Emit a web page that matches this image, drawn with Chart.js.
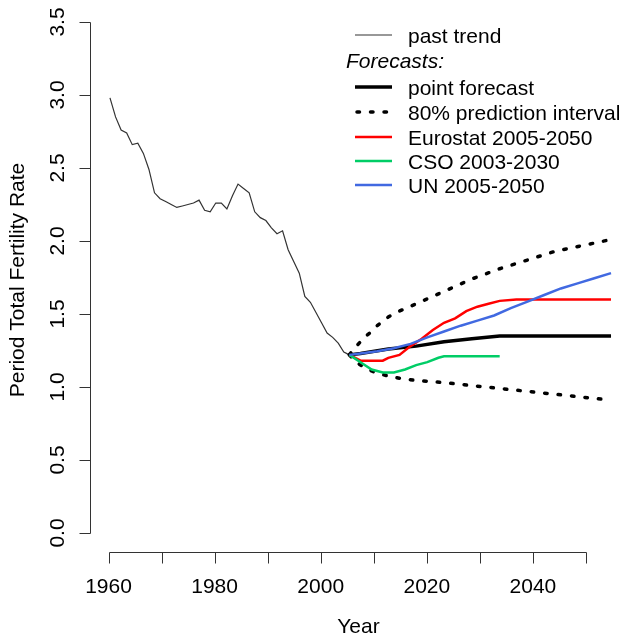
<!DOCTYPE html>
<html>
<head>
<meta charset="utf-8">
<script src="https://cdn.jsdelivr.net/npm/chart.js@4/dist/chart.umd.min.js"></script>
<style>
  html, body { margin: 0; padding: 0; background: #fff; }
  #wrap { width: 628px; height: 637px; }
</style>
</head>
<body>
<div id="wrap"><canvas id="tfrChart" width="628" height="637"></canvas></div>
<script>
// Period total fertility rate: past trend and forecasts

const pastYears = [1960, 1961, 1962, 1963, 1964, 1965, 1966, 1967, 1968, 1969,
                   1970, 1971, 1972, 1973, 1974, 1975, 1976, 1977, 1978, 1979,
                   1980, 1981, 1982, 1983, 1984, 1985, 1986, 1987, 1988, 1989,
                   1990, 1991, 1992, 1993, 1994, 1995, 1996, 1997, 1998, 1999,
                   2000, 2001, 2002, 2003];
const pastTfr = [2.98, 2.85, 2.76, 2.74, 2.66, 2.67, 2.60, 2.49, 2.33, 2.29,
                 2.27, 2.25, 2.23, 2.24, 2.25, 2.26, 2.28, 2.21, 2.20, 2.26,
                 2.26, 2.22, 2.31, 2.39, 2.36, 2.33, 2.20, 2.16, 2.14, 2.09,
                 2.05, 2.07, 1.94, 1.86, 1.78, 1.62, 1.58, 1.51, 1.44, 1.37,
                 1.34, 1.30, 1.24, 1.22];

const pointYears = [2003, 2005, 2010, 2015, 2020, 2025, 2030, 2035, 2040, 2045, 2050];
const pointTfr = [1.22, 1.23, 1.26, 1.28, 1.31, 1.33, 1.35, 1.35, 1.35, 1.35, 1.35];

const piYears = [2003, 2004, 2005, 2006, 2007, 2008, 2010, 2012, 2015, 2020, 2025, 2030, 2035, 2040, 2045, 2050];
const piUpper = [1.22, 1.27, 1.31, 1.35, 1.38, 1.42, 1.48, 1.52, 1.57, 1.655, 1.74, 1.81, 1.87, 1.93, 1.97, 2.01];
const piLower = [1.22, 1.18, 1.15, 1.13, 1.11, 1.095, 1.075, 1.06, 1.045, 1.03, 1.01, 0.99, 0.97, 0.95, 0.93, 0.91];

const eurostatYears = [2003, 2005, 2009, 2010, 2012, 2014, 2016, 2018, 2020, 2022, 2024, 2026, 2028, 2030, 2033, 2050];
const eurostatTfr = [1.22, 1.18, 1.18, 1.20, 1.22, 1.28, 1.33, 1.39, 1.44, 1.47, 1.52, 1.55, 1.57, 1.59, 1.60, 1.60];

const csoYears = [2003, 2005, 2007, 2009, 2011, 2013, 2015, 2017, 2019, 2020, 2030];
const csoTfr = [1.22, 1.17, 1.12, 1.10, 1.10, 1.12, 1.15, 1.17, 1.20, 1.21, 1.21];

const unYears = [2003, 2005, 2008, 2011, 2014, 2017, 2020, 2023, 2026, 2029, 2032, 2035, 2038, 2041, 2044, 2047, 2050];
const unTfr = [1.22, 1.23, 1.245, 1.265, 1.295, 1.34, 1.38, 1.42, 1.455, 1.49, 1.54, 1.585, 1.63, 1.675, 1.71, 1.745, 1.78];

// the printed year axis in the original sits on its own, tighter scale
const xTicks = [1960, 1970, 1980, 1990, 2000, 2010, 2020, 2030, 2040, 2050];
const xTickLabels = [1960, 1980, 2000, 2020, 2040];
const yTicks = [0, 0.5, 1, 1.5, 2, 2.5, 3, 3.5];

const xTitle = 'Year';
const yTitle = 'Period Total Fertility Rate';
const forecastHeader = 'Forecasts:';

const FONT = '"Liberation Sans", Arial, sans-serif';
const FSIZE = 21;

function pairs(xs, ys) {
    return xs.map((v, i) => ({ x: v, y: ys[i] }));
}

// R-style detached axes, drawn through the chart scales
const rAxes = {
    id: 'rAxes',
    afterDraw(chart) {
        const { ctx, chartArea } = chart;
        const xa = chart.scales.xAxis;
        const y = chart.scales.y;
        ctx.save();
        ctx.strokeStyle = '#333';
        ctx.lineWidth = 1;
        ctx.fillStyle = '#000';
        ctx.font = FSIZE + 'px ' + FONT;

        // x axis
        const yb = Math.round(chartArea.bottom) + 0.5;
        const x0 = Math.round(xa.getPixelForValue(xTicks[0])) + 0.5;
        const x1 = Math.round(xa.getPixelForValue(xTicks[xTicks.length - 1])) + 0.5;
        ctx.beginPath();
        ctx.moveTo(x0, yb);
        ctx.lineTo(x1, yb);
        xTicks.forEach(t => {
            const px = Math.round(xa.getPixelForValue(t)) + 0.5;
            ctx.moveTo(px, yb);
            ctx.lineTo(px, yb + 11);
        });
        ctx.stroke();
        ctx.textAlign = 'center';
        ctx.textBaseline = 'middle';
        xTickLabels.forEach(t => {
            ctx.fillText(String(t), xa.getPixelForValue(t), 587);
        });
        ctx.fillText(xTitle, chart.scales.x.getPixelForValue(2005) - 2, 627);

        // y axis
        const xl = Math.round(chartArea.left) + 0.5;
        const y0 = Math.round(y.getPixelForValue(yTicks[0])) + 0.5;
        const y1 = Math.round(y.getPixelForValue(yTicks[yTicks.length - 1])) + 0.5;
        ctx.beginPath();
        ctx.moveTo(xl, y0);
        ctx.lineTo(xl, y1);
        yTicks.forEach(t => {
            const py = Math.round(y.getPixelForValue(t)) + 0.5;
            ctx.moveTo(xl, py);
            ctx.lineTo(xl - 11, py);
        });
        ctx.stroke();
        yTicks.forEach(t => {
            ctx.save();
            ctx.translate(58, y.getPixelForValue(t));
            ctx.rotate(-Math.PI / 2);
            ctx.fillText(t.toFixed(1), 0, 0);
            ctx.restore();
        });
        ctx.save();
        ctx.translate(18, (chartArea.top + chartArea.bottom) / 2 + 3);
        ctx.rotate(-Math.PI / 2);
        ctx.fillText(yTitle, 0, 0);
        ctx.restore();
        ctx.restore();
    }
};

// legend in the top right, with the italic "Forecasts:" header
const rLegend = {
    id: 'rLegend',
    afterDraw(chart) {
        const { ctx } = chart;
        const ds = chart.data.datasets;
        const rows = [
            { ds: ds[0], y: 37 },
            { header: forecastHeader, y: 62 },
            { ds: ds[1], y: 89 },
            { ds: ds[2], y: 114 },
            { ds: ds[4], y: 139 },
            { ds: ds[5], y: 163 },
            { ds: ds[6], y: 187 }
        ];
        ctx.save();
        ctx.textBaseline = 'middle';
        ctx.textAlign = 'left';
        ctx.fillStyle = '#000';
        rows.forEach(r => {
            if (r.header) {
                ctx.font = 'italic ' + FSIZE + 'px ' + FONT;
                ctx.fillText(r.header, 346, r.y);
                return;
            }
            ctx.save();
            ctx.strokeStyle = r.ds.borderColor;
            ctx.lineWidth = r.ds.borderWidth;
            ctx.lineCap = r.ds.borderCapStyle || 'butt';
            ctx.setLineDash(r.ds.borderDash || []);
            ctx.beginPath();
            ctx.moveTo(r.ds.borderDash ? 357 : 355, r.y - 2);
            ctx.lineTo(392, r.y - 2);
            ctx.stroke();
            ctx.restore();
            ctx.font = FSIZE + 'px ' + FONT;
            ctx.fillText(r.ds.label, 408, r.y);
        });
        ctx.restore();
    }
};

const dotted = [2.5, 11];

const datasets = [
    { label: 'past trend', data: pairs(pastYears, pastTfr), borderColor: '#333', borderWidth: 1.2, order: 7 },
    { label: 'point forecast', data: pairs(pointYears, pointTfr), borderColor: '#000', borderWidth: 3.5, order: 6 },
    { label: '80% prediction interval', data: pairs(piYears, piUpper), borderColor: '#000', borderWidth: 3.5,
      borderDash: dotted, borderCapStyle: 'round', order: 5 },
    { label: '80% prediction interval', data: pairs(piYears, piLower), borderColor: '#000', borderWidth: 3.5,
      borderDash: dotted, borderCapStyle: 'round', order: 5 },
    { label: 'Eurostat 2005-2050', data: pairs(eurostatYears, eurostatTfr), borderColor: '#ff0000', borderWidth: 2.5, order: 4 },
    { label: 'CSO 2003-2030', data: pairs(csoYears, csoTfr), borderColor: '#00cd66', borderWidth: 2.5, order: 3 },
    { label: 'UN 2005-2050', data: pairs(unYears, unTfr), borderColor: '#4169e1', borderWidth: 2.5, order: 2 }
];

const ctx = document.getElementById('tfrChart');
new Chart(ctx, {
    type: 'line',
    data: { datasets: datasets },
    options: {
        responsive: false,
        animation: false,
        devicePixelRatio: 1,
        layout: { padding: { left: 90, top: 2, right: 0, bottom: 85 } },
        elements: { point: { radius: 0, hoverRadius: 0 }, line: { tension: 0, fill: false } },
        plugins: { legend: { display: false }, tooltip: { enabled: false } },
        scales: {
            x: { type: 'linear', min: 1956.41, max: 2053.05, display: false },
            xAxis: { type: 'linear', axis: 'x', min: 1956.513, max: 2057.916, display: false },
            y: { type: 'linear', min: -0.1301, max: 3.637, display: false }
        }
    },
    plugins: [rAxes, rLegend]
});
</script>
</body>
</html>
